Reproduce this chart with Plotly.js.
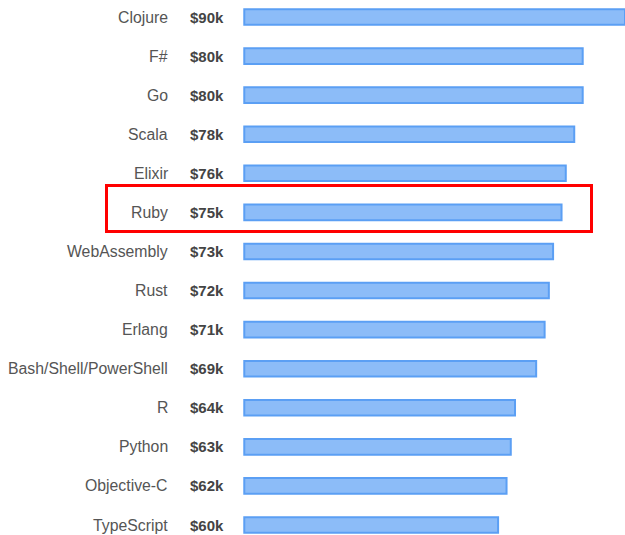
<!DOCTYPE html>
<html>
<head>
<meta charset="utf-8">
<script src="https://cdn.plot.ly/plotly-3.0.1.min.js"></script>
<style>html,body{margin:0;padding:0;background:#fff;}#chart{width:625px;height:535px;}</style>
</head>
<body>
<div id="chart"></div>
<script>
var languages = ["Clojure","F#","Go","Scala","Elixir","Ruby","WebAssembly","Rust","Erlang","Bash/Shell/PowerShell","R","Python","Objective-C","TypeScript"];
var salaries = [90,80,80,78,76,75,73,72,71,69,64,63,62,60];
var salaryLabels = ["$90k","$80k","$80k","$78k","$76k","$75k","$73k","$72k","$71k","$69k","$64k","$63k","$62k","$60k"];
var highlighted = "Ruby";

var W = 625, H = 535, L = 243;
var plotW = W - L;
function px2paper(px){ return (px - L) / plotW; }

var annotations = [];
languages.forEach(function(lang, i){
  annotations.push({
    x: px2paper(170), xref: 'paper', y: lang, yref: 'y',
    text: lang, showarrow: false, xanchor: 'right', yanchor: 'middle',
    font: {family: 'Liberation Sans, Arial, sans-serif', size: 15.8, color: '#555555'}
  });
  annotations.push({
    x: px2paper(188), xref: 'paper', y: lang, yref: 'y',
    text: '<b>' + salaryLabels[i] + '</b>', showarrow: false, xanchor: 'left', yanchor: 'middle',
    font: {family: 'Liberation Sans, Arial, sans-serif', size: 15, color: '#444444'}
  });
});

var hi = languages.indexOf(highlighted);
var shapes = [{
  type: 'rect', xref: 'paper', yref: 'y',
  x0: px2paper(106.5), x1: px2paper(591.5),
  y0: hi - 27/39.08, y1: hi + 19/39.08,
  line: {color: '#ff0000', width: 3}, fillcolor: 'rgba(0,0,0,0)'
}];

var trace = {
  type: 'bar', orientation: 'h',
  x: salaries, y: languages,
  width: 0.4,
  marker: {color: '#8cbcf8', line: {color: '#5b9ff4', width: 2}},
  hoverinfo: 'none'
};

var layout = {
  width: W, height: H,
  margin: {l: L, r: 0, t: 0, b: 0, pad: 0},
  paper_bgcolor: '#ffffff', plot_bgcolor: '#ffffff',
  showlegend: false,
  xaxis: {range: [-0.3, 90], showgrid: false, zeroline: false, showticklabels: false, showline: false, ticks: ''},
  yaxis: {type: 'category', range: [13 + 10/39.08, -17/39.08], showgrid: false, zeroline: false, showticklabels: false, showline: false, ticks: ''},
  annotations: annotations,
  shapes: shapes
};

Plotly.newPlot('chart', [trace], layout, {displayModeBar: false, staticPlot: true});
</script>
</body>
</html>
